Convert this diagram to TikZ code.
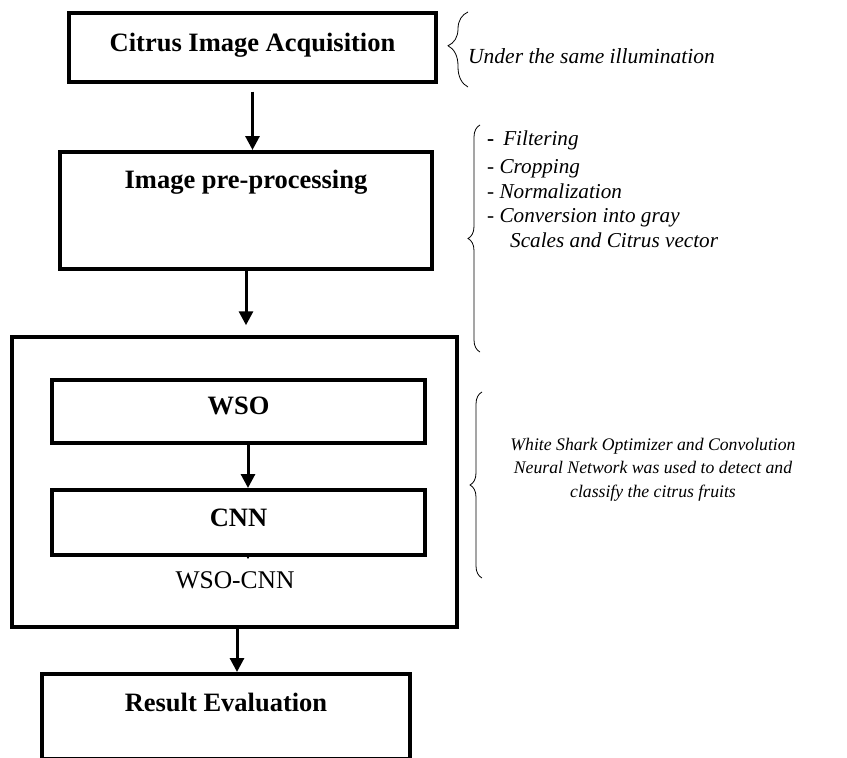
\documentclass[tikz,border=0pt]{standalone}
\usepackage{fontspec}
\setmainfont{Liberation Serif}
\usetikzlibrary{arrows.meta,decorations.pathreplacing}

\begin{document}
\begin{tikzpicture}[x=1pt, y=-1pt,
  stage/.style={draw, line width=3.5pt, inner sep=0pt, anchor=north,
    font=\fontsize{26.5}{30}\selectfont\bfseries},
  arr/.style={line width=3pt, -{Triangle[length=14pt,width=14pt]}},
  brc/.style={decorate, line width=0.8pt},
  note/.style={inner sep=0pt, font=\fontsize{21.5}{24.5}\selectfont\itshape}]
  \useasboundingbox (0,0) rectangle (847,758);
  % flow boxes
  \node (acq) [stage, minimum width=367pt, text height=39pt, text depth=30pt] at (252.5,11) {Citrus Image Acquisition};
  \node (prep) [stage, minimum width=372pt, text height=37pt, text depth=80pt] at (246,150) {Image pre-processing};
  \node (hyb) [draw, line width=3.5pt, minimum width=445pt, minimum height=290pt] at (234.5,482) {};
  \node (wso) [stage, minimum width=373pt, text height=35pt, text depth=28pt] at (238.5,378) {WSO};
  \node (cnn) [stage, minimum width=373pt, text height=37pt, text depth=28pt] at (238.5,488) {CNN};
  \node (lbl) [anchor=base, font=\fontsize{25.5}{30}\selectfont] at (235,588) {WSO-CNN};
  \node (res) [stage, minimum width=368pt, text height=38pt, text depth=47pt] at (226,672) {Result Evaluation};
  \coordinate (tick) at (248,559);
  % arrows
  \draw[arr] ([yshift=-8pt]acq.south) -- (acq.south |- prep.north);
  \draw[arr] (prep.south) -- ([yshift=10pt]prep.south |- hyb.north);
  \draw[arr] ([xshift=9.5pt]wso.south) -- ([xshift=9.5pt]cnn.north);
  \draw[line width=1pt, -{Triangle[length=5pt,width=6pt]}] (cnn.south -| tick) -- (tick);
  \draw[arr] ([xshift=2.5pt]hyb.south) -- ([xshift=2.5pt]hyb.south |- res.north);
  % braces and notes
  \draw[brc, decoration={brace, amplitude=20pt, aspect=0.55}] (468,87) -- (468,12);
  \draw[brc, decoration={brace, amplitude=12pt}] (480,352) -- (480,125);
  \draw[brc, decoration={brace, amplitude=12pt}] (482,578) -- (482,392);
  \node (illum) [note, anchor=base west] at (468,63) {Under the same illumination};
  \node (steps) [note, anchor=north west, align=left, font=\fontsize{21.2}{24.5}\selectfont\itshape] at (487,130.5)
    {{\upshape\bfseries -}\hspace{9pt}Filtering\\[4pt]
     - Cropping\\
     - Normalization\\
     - Conversion into gray\\
     \hspace*{23pt}Scales and Citrus vector};
  \node (sum) [note, align=center, font=\fontsize{17.7}{23.5}\selectfont\itshape] at (653,469.5)
    {White Shark Optimizer and Convolution\\Neural Network was used to detect and\\classify the citrus fruits};
\end{tikzpicture}
\end{document}
